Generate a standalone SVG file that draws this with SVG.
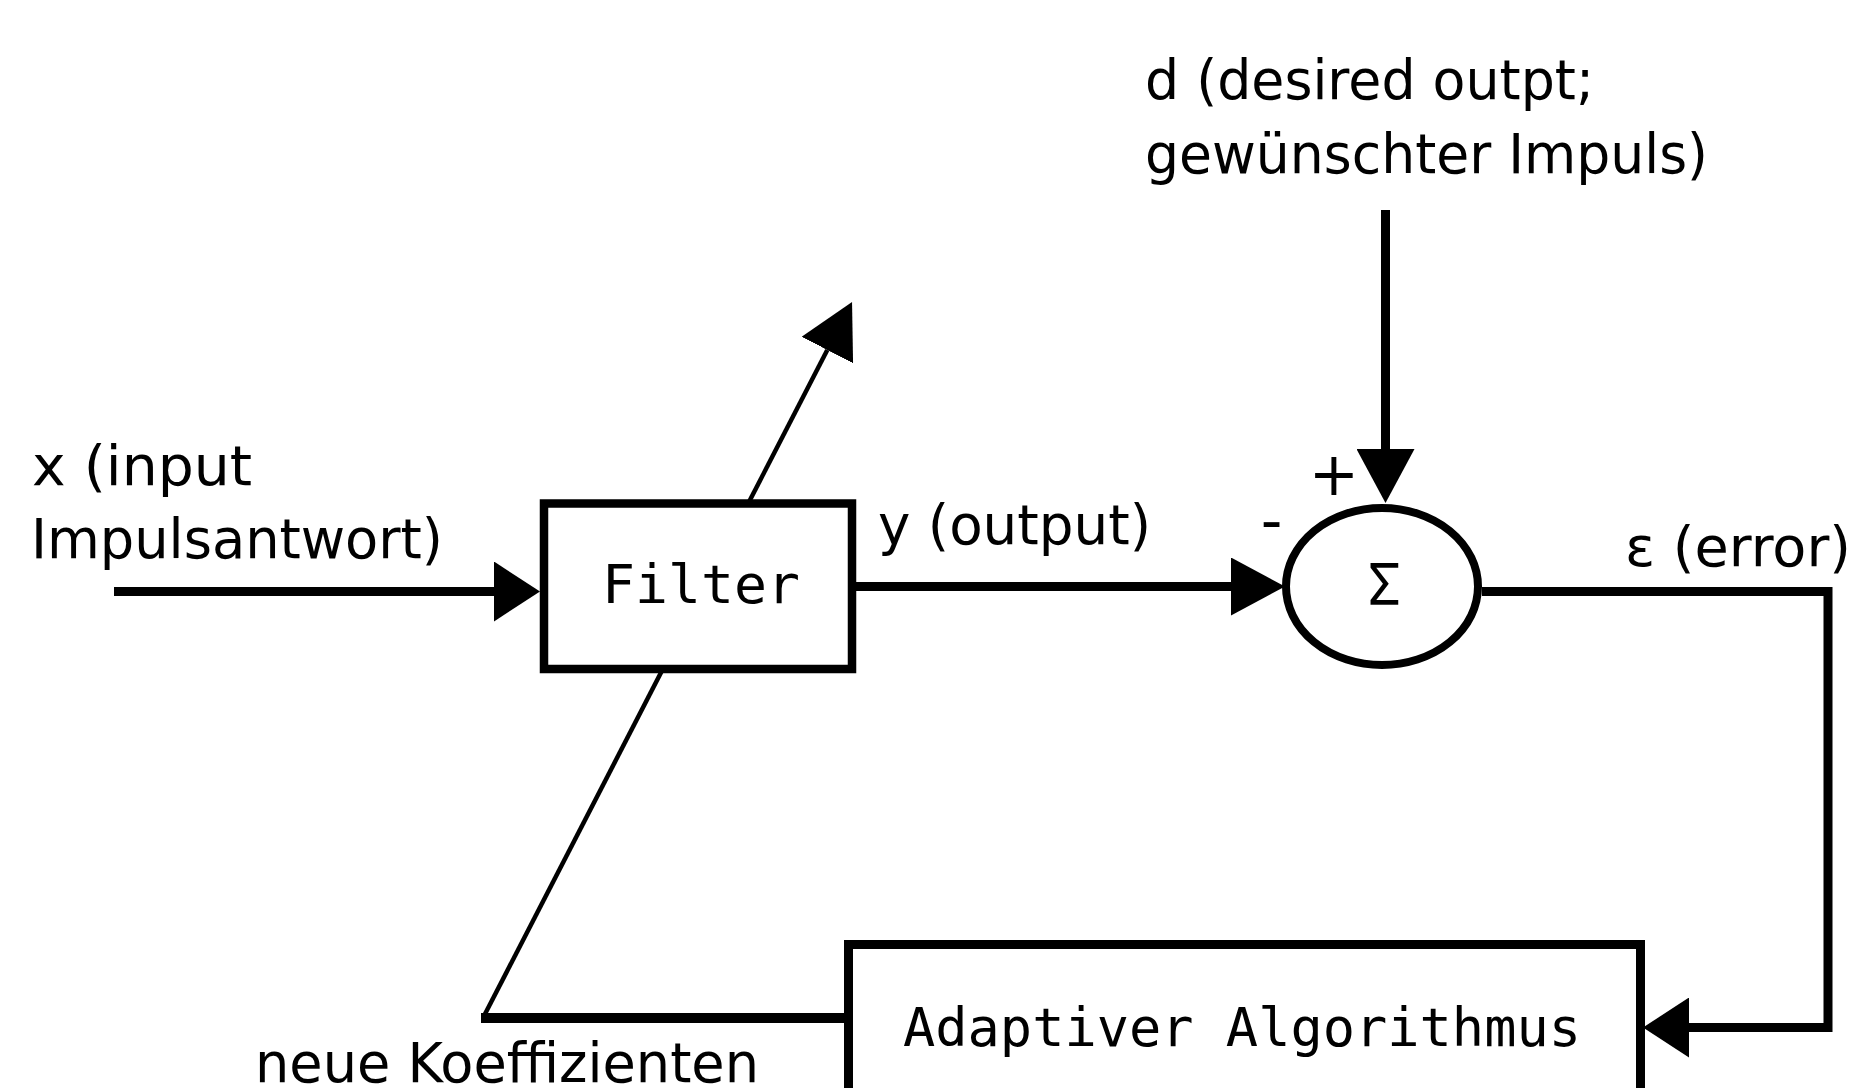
<svg xmlns="http://www.w3.org/2000/svg" width="1850" height="1088" viewBox="0 0 1850 1088">
  <defs>
    <style>
      .lbl{font-family:"DejaVu Sans","Liberation Sans",sans-serif;font-size:56px;fill:#000}
      .mono{font-family:"DejaVu Sans Mono","Liberation Mono",monospace;font-size:54px;fill:#000}
      .box{fill:#fff;stroke:#000;stroke-width:8.5}
      .wire{fill:none;stroke:#000;stroke-width:9;stroke-linejoin:miter}
      .thin{fill:none;stroke:#000;stroke-width:4.5}
    </style>
    <!-- short and long filled arrowheads; the path ends at the arrowhead base -->
    <marker id="headS" markerUnits="userSpaceOnUse" viewBox="0 0 46 60" markerWidth="46" markerHeight="60" refX="0" refY="30" orient="auto">
      <path d="M0,0 L46,30 L0,60 Z" fill="#000"/>
    </marker>
    <marker id="headL" markerUnits="userSpaceOnUse" viewBox="0 0 54 58" markerWidth="54" markerHeight="58" refX="0" refY="29" orient="auto">
      <path d="M0,0 L54,29 L0,58 Z" fill="#000"/>
    </marker>
  </defs>

  <rect x="0" y="0" width="1850" height="1088" fill="#fff"/>

  <!-- connectors -->
  <g id="connectors">
    <path id="c-input" class="wire" d="M114,591.5 H494" marker-end="url(#headS)"/>
    <path id="c-output" class="wire" d="M856,586.5 H1231" marker-end="url(#headL)"/>
    <path id="c-desired" class="wire" d="M1385.5,210 V449" marker-end="url(#headL)"/>
    <path id="c-error" class="wire" d="M1482,591.5 H1828 V1027.5 H1689" marker-end="url(#headS)"/>
    <path id="c-coeff" class="wire" d="M848,1018 H481" style="stroke-width:10"/>
    <path id="c-adjust" class="thin" d="M485,1014 L827.3,350" marker-end="url(#headL)"/>
  </g>

  <!-- filter block -->
  <g id="filter">
    <rect class="box" x="544" y="503.5" width="308" height="165.5"/>
    <text class="mono" x="602" y="603" textLength="198" lengthAdjust="spacingAndGlyphs">Filter</text>
  </g>

  <!-- summing junction -->
  <g id="sum">
    <ellipse cx="1382" cy="586.5" rx="96" ry="78.5" fill="#fff" stroke="#000" stroke-width="8"/>
    <text class="mono" x="1384" y="605" text-anchor="middle" style="font-size:56px">Σ</text>
    <text class="lbl" x="1334" y="495" text-anchor="middle" style="font-size:60px">+</text>
    <text class="lbl" x="1271.5" y="541" text-anchor="middle" style="font-size:60px">-</text>
  </g>

  <!-- adaptive algorithm block -->
  <g id="adaptive">
    <rect x="848.5" y="944.5" width="792" height="220" fill="#fff" stroke="#000" stroke-width="9"/>
    <text class="mono" x="903" y="1046" textLength="678" lengthAdjust="spacingAndGlyphs">Adaptiver Algorithmus</text>
  </g>

  <!-- signal labels -->
  <g id="label-x">
    <text class="lbl" x="32" y="485" textLength="220" lengthAdjust="spacingAndGlyphs">x (input</text>
    <text class="lbl" x="31" y="558" textLength="412" lengthAdjust="spacingAndGlyphs">Impulsantwort)</text>
  </g>
  <g id="label-y">
    <text class="lbl" x="878" y="544" textLength="273" lengthAdjust="spacingAndGlyphs">y (output)</text>
  </g>
  <g id="label-d">
    <text class="lbl" x="1145" y="99" textLength="449" lengthAdjust="spacingAndGlyphs">d (desired outpt;</text>
    <text class="lbl" x="1145" y="173" textLength="563" lengthAdjust="spacingAndGlyphs">gewünschter Impuls)</text>
  </g>
  <g id="label-e">
    <text class="lbl" x="1625" y="566" textLength="226" lengthAdjust="spacingAndGlyphs">ε (error)</text>
  </g>
  <g id="label-coeff">
    <text class="lbl" x="255" y="1082" textLength="504" lengthAdjust="spacingAndGlyphs">neue Koeffizienten</text>
  </g>
</svg>
